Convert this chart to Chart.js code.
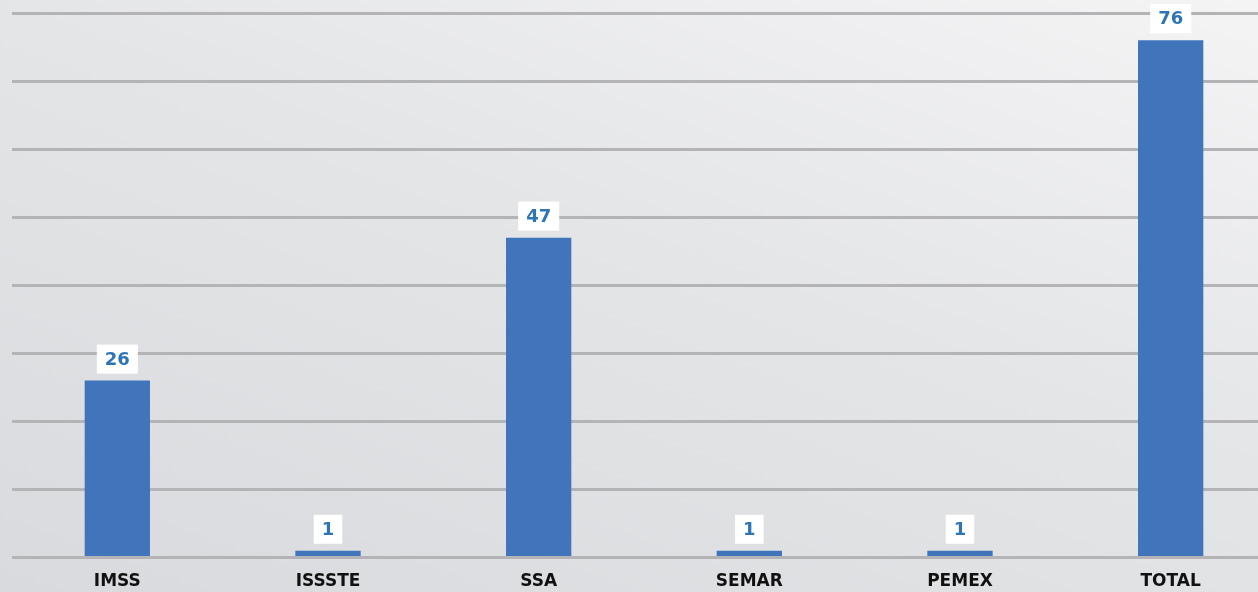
<!DOCTYPE html>
<html>
<head>
<meta charset="utf-8">
<script src="https://cdn.jsdelivr.net/npm/chart.js@4.4.1/dist/chart.umd.min.js"></script>
<style>
  html, body { margin: 0; padding: 0; overflow: hidden; }
  body {
    width: 1258px; height: 592px;
    background: linear-gradient(200deg, #f4f4f5 0%, #e4e5e7 45%, #d9dadd 100%);
  }
  #wrap { position: relative; width: 1258px; height: 592px; overflow: hidden; }
</style>
</head>
<body>
<div id="wrap"><canvas id="chart" width="1276" height="598"></canvas></div>
<script>
const categories = ["IMSS", "ISSSTE", "SSA", "SEMAR", "PEMEX", "TOTAL"];
const values = [26, 1, 47, 1, 1, 76];

// white boxes with the values above each bar
const valueLabels = {
  id: "valueLabels",
  afterDatasetsDraw(chart) {
    const ctx = chart.ctx;
    const meta = chart.getDatasetMeta(0);
    ctx.save();
    ctx.font = "bold 18px 'DejaVu Sans'";
    ctx.textAlign = "center";
    ctx.textBaseline = "middle";
    meta.data.forEach((bar, i) => {
      const txt = String(values[i]);
      const w = ctx.measureText(txt).width + 16;
      const h = 29;
      const cy = bar.y - 7 - h / 2;
      ctx.fillStyle = "#ffffff";
      ctx.fillRect(bar.x - w / 2, cy - h / 2, w, h);
      ctx.fillStyle = "#2e75b6";
      ctx.fillText(txt, bar.x, cy + 1);
    });
    ctx.restore();
  }
};

new Chart(document.getElementById("chart"), {
  type: "bar",
  data: {
    labels: categories,
    datasets: [{
      data: values,
      backgroundColor: "#4074bb",
      borderWidth: 0,
      categoryPercentage: 1,
      barPercentage: 0.31
    }]
  },
  options: {
    responsive: false,
    animation: false,
    devicePixelRatio: 1,
    layout: { padding: { left: 12, top: 13, right: 0, bottom: 0 } },
    plugins: { legend: { display: false }, tooltip: { enabled: false } },
    scales: {
      x: {
        grid: { display: false },
        border: { display: false },
        ticks: {
          color: "#111111",
          font: { family: "DejaVu Sans", weight: "bold", size: 17 },
          padding: 6
        }
      },
      y: {
        display: true,
        min: 0, max: 80,
        ticks: { display: false, stepSize: 10 },
        border: { display: false },
        grid: { color: "#b4b4b6", lineWidth: 3, drawTicks: false }
      }
    }
  },
  plugins: [valueLabels]
});
</script>
</body>
</html>
